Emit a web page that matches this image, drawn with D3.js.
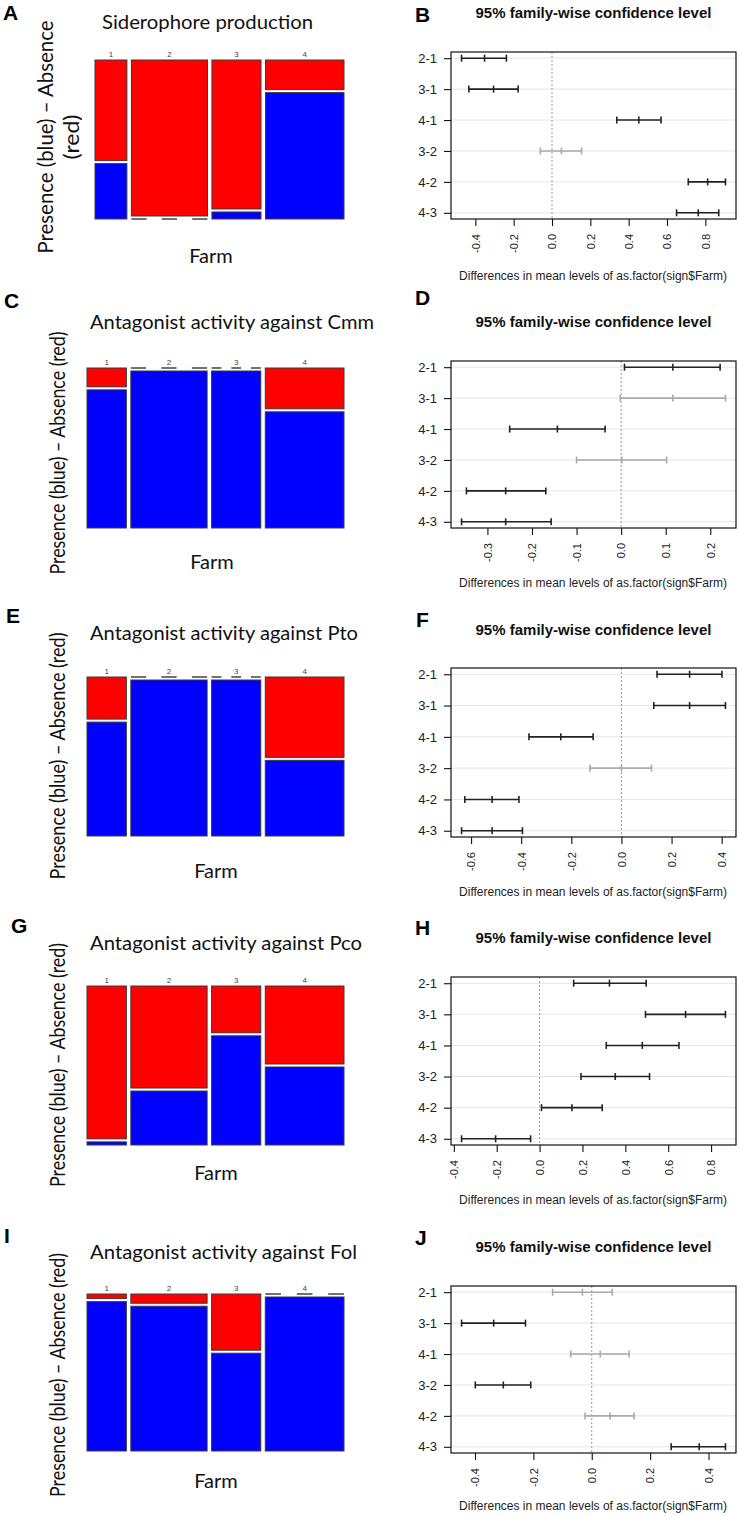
<!DOCTYPE html>
<html><head><meta charset="utf-8">
<script src="https://cdn.jsdelivr.net/npm/d3@7/dist/d3.min.js"></script>
<style>body{margin:0;background:#fff}svg{display:block}</style>
</head><body>
<svg id="c" width="739" height="1517"></svg>
<script>
// ---------------- DATA ----------------
const farms = ["1", "2", "3", "4"];
const comparisons = ["2-1", "3-1", "4-1", "3-2", "4-2", "4-3"];

// relative column weights (farm sample sizes) of the mosaic plots
const farmSizeA = [13, 31, 20, 32];
const farmSize = [16, 31, 20, 32];

// proportion of presence (blue) per farm
const presenceSiderophore = [0.355, 0, 0.045, 0.81];
const presenceCmm = [0.88, 1, 1, 0.74];
const presencePto = [0.73, 1, 1, 0.485];
const presencePco = [0.02, 0.346, 0.70, 0.50];
const presenceFol = [0.97, 0.94, 0.635, 1];

// Tukey HSD: diff / lwr / upr per comparison
const diffB = [-0.352, -0.305, 0.453, 0.049, 0.812, 0.763];
const lwrB  = [-0.472, -0.434, 0.338, -0.061, 0.711, 0.650];
const uprB  = [-0.238, -0.177, 0.569, 0.154, 0.905, 0.870];
const ticksB = ["-0.4", "-0.2", "0.0", "0.2", "0.4", "0.6", "0.8"];

const diffD = [0.116, 0.116, -0.143, 0.0015, -0.259, -0.259];
const lwrD  = [0.0075, -0.002, -0.250, -0.100, -0.347, -0.358];
const uprD  = [0.222, 0.234, -0.036, 0.102, -0.169, -0.157];
const ticksD = ["-0.3", "-0.2", "-0.1", "0.0", "0.1", "0.2"];

const diffF = [0.272, 0.272, -0.242, 0.0, -0.516, -0.516];
const lwrF  = [0.142, 0.129, -0.369, -0.126, -0.625, -0.638];
const uprF  = [0.401, 0.415, -0.113, 0.120, -0.409, -0.395];
const ticksF = ["-0.6", "-0.4", "-0.2", "0.0", "0.2", "0.4"];

const diffH = [0.326, 0.681, 0.479, 0.353, 0.151, -0.205];
const lwrH  = [0.159, 0.494, 0.311, 0.193, 0.009, -0.364];
const uprH  = [0.497, 0.867, 0.650, 0.513, 0.292, -0.042];
const ticksH = ["-0.4", "-0.2", "0.0", "0.2", "0.4", "0.6", "0.8"];

const diffJ = [-0.032, -0.336, 0.029, -0.303, 0.063, 0.368];
const lwrJ  = [-0.134, -0.446, -0.072, -0.399, -0.023, 0.272];
const uprJ  = [0.070, -0.227, 0.128, -0.209, 0.145, 0.458];
const ticksJ = ["-0.4", "-0.2", "0.0", "0.2", "0.4"];

const ylabFull = "Presence (blue) \u2013 Absence (red)";

// ---------------- DRAW ----------------
const svg = d3.select("#c");
svg.append("rect").attr("width", 739).attr("height", 1517).attr("fill", "#fff");

const SANS = "Lato, 'Open Sans', sans-serif";
const ARIAL = "'Liberation Sans', Arial, sans-serif";

function letter(t, x, y) {
  svg.append("text").attr("x", x).attr("y", y).text(t)
    .attr("font-family", ARIAL).attr("font-weight", "bold").attr("font-size", 21).attr("fill", "#000");
}

const mosaicPanels = [
  {letter: "A", lx: 3, ly: 20, title: "Siderophore production", tx: 102, ty: 29, tlen: 211,
   top: 60, bottom: 219, left: 95, right: 344, sizes: farmSizeA, presence: presenceSiderophore,
   ylab: [{text: "Presence (blue) \u2013 Absence", x: 53, y: 137, len: 233}, {text: "(red)", x: 79, y: 137, len: 45}],
   farmX: 211, farmY: 263},
  {letter: "C", lx: 4, ly: 308, title: "Antagonist activity against Cmm", tx: 90, ty: 329, tlen: 284,
   top: 368, bottom: 528, left: 87, right: 344, sizes: farmSize, presence: presenceCmm,
   ylab: [{text: ylabFull, x: 65, y: 453, len: 243}], farmX: 212, farmY: 569},
  {letter: "E", lx: 6, ly: 623, title: "Antagonist activity against Pto", tx: 90, ty: 640, tlen: 268,
   top: 677, bottom: 836, left: 87, right: 344, sizes: farmSize, presence: presencePto,
   ylab: [{text: ylabFull, x: 65, y: 756, len: 247}], farmX: 216, farmY: 878},
  {letter: "G", lx: 11, ly: 933, title: "Antagonist activity against Pco", tx: 90, ty: 950, tlen: 272,
   top: 986, bottom: 1145, left: 87, right: 344, sizes: farmSize, presence: presencePco,
   ylab: [{text: ylabFull, x: 65, y: 1065, len: 244}], farmX: 216, farmY: 1180},
  {letter: "I", lx: 4, ly: 1243, title: "Antagonist activity against Fol", tx: 90, ty: 1259, tlen: 267,
   top: 1294, bottom: 1451, left: 87, right: 344, sizes: farmSize, presence: presenceFol,
   ylab: [{text: ylabFull, x: 65, y: 1375, len: 244}], farmX: 216, farmY: 1488}
];

function drawMosaic(p) {
  letter(p.letter, p.lx, p.ly);
  const g = svg.append("g");
  g.append("text").attr("x", p.tx).attr("y", p.ty).text(p.title)
    .attr("font-family", SANS).attr("font-size", 20).attr("fill", "#111")
    .attr("textLength", p.tlen).attr("lengthAdjust", "spacingAndGlyphs");
  p.ylab.forEach(l => {
    g.append("text").attr("transform", `translate(${l.x},${l.y}) rotate(-90)`)
      .attr("text-anchor", "middle").text(l.text)
      .attr("font-family", SANS).attr("font-size", 21).attr("fill", "#111")
      .attr("textLength", l.len).attr("lengthAdjust", "spacingAndGlyphs");
  });
  g.append("text").attr("x", p.farmX).attr("y", p.farmY).attr("text-anchor", "middle").text("Farm")
    .attr("font-family", SANS).attr("font-size", 20).attr("fill", "#111");

  const gap = 4.5, vgap = 3;
  const total = d3.sum(p.sizes);
  const avail = p.right - p.left - gap * (p.sizes.length - 1);
  const xs = d3.scaleLinear().domain([0, total]).range([0, avail]);
  const ys = d3.scaleLinear().domain([0, 1]).range([0, p.bottom - p.top - vgap]);
  let cum = 0;
  const cols = p.sizes.map((n, i) => {
    const x0 = p.left + xs(cum) + i * gap; cum += n;
    return {i, x0, w: xs(n), pr: p.presence[i]};
  });
  cols.forEach(c => {
    const redH = ys(1 - c.pr), blueH = ys(c.pr);
    if (1 - c.pr > 0) {
      g.append("rect").attr("x", c.x0).attr("y", p.top).attr("width", c.w).attr("height", redH)
        .attr("fill", "#ff0000").attr("stroke", "#3a3a3a").attr("stroke-width", 1);
    } else {
      g.append("line").attr("x1", c.x0).attr("x2", c.x0 + c.w).attr("y1", p.top).attr("y2", p.top)
        .attr("stroke", "#444").attr("stroke-width", 1.5).attr("stroke-dasharray", `${c.w / 5},${c.w / 5}`);
    }
    if (c.pr > 0) {
      g.append("rect").attr("x", c.x0).attr("y", p.bottom - blueH).attr("width", c.w).attr("height", blueH)
        .attr("fill", "#0000ff").attr("stroke", "#3a3a3a").attr("stroke-width", 1);
    } else {
      g.append("line").attr("x1", c.x0).attr("x2", c.x0 + c.w).attr("y1", p.bottom).attr("y2", p.bottom)
        .attr("stroke", "#444").attr("stroke-width", 1.5).attr("stroke-dasharray", `${c.w / 5},${c.w / 5}`);
    }
    g.append("text").attr("x", c.x0 + c.w / 2).attr("y", p.top - 3).attr("text-anchor", "middle")
      .text(farms[c.i]).attr("font-family", ARIAL).attr("font-size", 8).attr("fill", "#444");
  });
}

const tukeyPanels = [
  {letter: "B", lx: 415, ly: 22, ty: 18, top: 52, bottom: 219, xl: 280, diff: diffB, lwr: lwrB, upr: uprB, ticks: ticksB},
  {letter: "D", lx: 415, ly: 305, ty: 327, top: 361, bottom: 528, xl: 587, diff: diffD, lwr: lwrD, upr: uprD, ticks: ticksD},
  {letter: "F", lx: 416, ly: 627, ty: 635, top: 668, bottom: 837, xl: 896, diff: diffF, lwr: lwrF, upr: uprF, ticks: ticksF},
  {letter: "H", lx: 415, ly: 935, ty: 943, top: 977, bottom: 1145, xl: 1204, diff: diffH, lwr: lwrH, upr: uprH, ticks: ticksH},
  {letter: "J", lx: 415, ly: 1245, ty: 1252, top: 1286, bottom: 1453, xl: 1510, diff: diffJ, lwr: lwrJ, upr: uprJ, ticks: ticksJ}
];

function drawTukey(p) {
  letter(p.letter, p.lx, p.ly);
  const L = 451, R = 736;
  const g = svg.append("g");
  const lo = d3.min(p.lwr), hi = d3.max(p.upr), pad = (hi - lo) * 0.04;
  const x = d3.scaleLinear().domain([lo - pad, hi + pad]).range([L, R]);
  const y = d3.scaleLinear().domain([0.8, 6.2]).range([p.top, p.bottom]);

  g.append("text").attr("x", 593.5).attr("y", p.ty).attr("text-anchor", "middle")
    .text("95% family-wise confidence level")
    .attr("font-family", ARIAL).attr("font-weight", "bold").attr("font-size", 15).attr("fill", "#111");

  // grid lines
  comparisons.forEach((c, i) => {
    g.append("line").attr("x1", L).attr("x2", R).attr("y1", y(i + 1)).attr("y2", y(i + 1))
      .attr("stroke", "#e4e4e4").attr("stroke-width", 1);
  });
  // zero line
  g.append("line").attr("x1", x(0)).attr("x2", x(0)).attr("y1", p.top).attr("y2", p.bottom)
    .attr("stroke", "#999").attr("stroke-width", 1).attr("stroke-dasharray", "2,2");

  // error bars
  comparisons.forEach((c, i) => {
    const sig = p.lwr[i] > 0 || p.upr[i] < 0;
    const col = sig ? "#222" : "#aaa";
    const yy = y(i + 1);
    g.append("line").attr("x1", x(p.lwr[i])).attr("x2", x(p.upr[i])).attr("y1", yy).attr("y2", yy)
      .attr("stroke", col).attr("stroke-width", 1.6);
    [p.lwr[i], p.diff[i], p.upr[i]].forEach(v => {
      g.append("line").attr("x1", x(v)).attr("x2", x(v)).attr("y1", yy - 3.5).attr("y2", yy + 3.5)
        .attr("stroke", col).attr("stroke-width", 1.6);
    });
  });

  // box
  g.append("rect").attr("x", L).attr("y", p.top).attr("width", R - L).attr("height", p.bottom - p.top)
    .attr("fill", "none").attr("stroke", "#111").attr("stroke-width", 1.2);

  // y axis
  const ya = g.append("g").attr("transform", `translate(${L},0)`)
    .call(d3.axisLeft(y).tickValues([1, 2, 3, 4, 5, 6]).tickFormat(d => comparisons[d - 1])
      .tickSize(7).tickPadding(7).tickSizeOuter(0));
  ya.select(".domain").remove();
  ya.selectAll("line").attr("stroke", "#111").attr("stroke-width", 1.1);
  ya.selectAll("text").attr("font-family", ARIAL).attr("font-size", 13).attr("fill", "#222");

  // x axis
  const tv = p.ticks.map(Number);
  const xa = g.append("g").attr("transform", `translate(0,${p.bottom})`)
    .call(d3.axisBottom(x).tickValues(tv).tickFormat((d, i) => p.ticks[i]).tickSize(7).tickSizeOuter(0));
  xa.select(".domain").remove();
  xa.selectAll("line").attr("stroke", "#111").attr("stroke-width", 1.1);
  xa.selectAll("text").attr("transform", "rotate(-90)").attr("x", -15).attr("y", 0).attr("dy", "0.35em")
    .style("text-anchor", "end").attr("font-family", ARIAL).attr("font-size", 11).attr("fill", "#222");

  g.append("text").attr("x", 593).attr("y", p.xl).attr("text-anchor", "middle")
    .text("Differences in mean levels of as.factor(sign$Farm)")
    .attr("font-family", ARIAL).attr("font-size", 12).attr("fill", "#222");
}

mosaicPanels.forEach(drawMosaic);
tukeyPanels.forEach(drawTukey);
</script>
</body></html>
